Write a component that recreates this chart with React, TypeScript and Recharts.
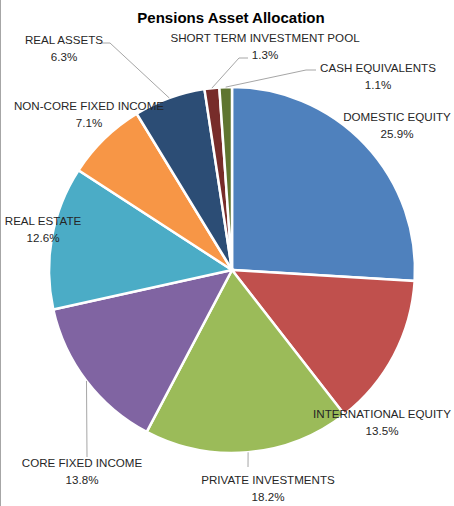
import React from 'react';
import { PieChart, Pie, Cell } from 'recharts';

const categories = [
  'DOMESTIC EQUITY',
  'INTERNATIONAL EQUITY',
  'PRIVATE INVESTMENTS',
  'CORE FIXED INCOME',
  'REAL ESTATE',
  'NON-CORE FIXED INCOME',
  'REAL ASSETS',
  'SHORT TERM INVESTMENT POOL',
  'CASH EQUIVALENTS',
];
const shares = [25.9, 13.5, 18.2, 13.8, 12.6, 7.1, 6.3, 1.3, 1.1];

const colors = ['#4F81BD', '#C0504D', '#9BBB59', '#8064A2', '#4BACC6', '#F79646', '#2C4D75', '#772C2A', '#5F7530'];

// where each label sits (first line centre) and the bends of its leader line, if any
const labelLayout: { x: number; y: number; line?: number[][] }[] = [
  { x: 397, y: 116 },
  { x: 382, y: 413 },
  { x: 268, y: 479, line: [[248, 467]] },
  { x: 82, y: 462, line: [[87, 457]] },
  { x: 43, y: 220 },
  { x: 89, y: 105 },
  { x: 64, y: 39, line: [[110, 43], [102, 43]] },
  { x: 265, y: 37, line: [[239, 58], [248, 58]] },
  { x: 378, y: 67, line: [[306, 70], [316, 70]] },
];

const data = categories.map((name, i) => ({ name, value: shares[i] }));

const RAD = Math.PI / 180;

function renderLabel(props: any) {
  const { cx, cy, midAngle, outerRadius, index, value } = props;
  const layout = labelLayout[index];
  const sx = cx + outerRadius * Math.cos(-midAngle * RAD);
  const sy = cy + outerRadius * Math.sin(-midAngle * RAD);
  const pts = layout.line ? [[sx, sy], ...layout.line] : null;
  return (
    <g key={`lbl-${index}`}>
      {pts && (
        <polyline
          points={pts.map((p) => p.join(',')).join(' ')}
          fill="none"
          stroke="#A6A6A6"
          strokeWidth={1}
        />
      )}
      <text
        x={layout.x}
        y={layout.y}
        textAnchor="middle"
        dominantBaseline="central"
        fill="#262626"
        fontSize={11.6}
        fontFamily="'Liberation Sans', Arial, sans-serif"
      >
        {categories[index]}
      </text>
      <text
        x={layout.x}
        y={layout.y + 17.5}
        textAnchor="middle"
        dominantBaseline="central"
        fill="#262626"
        fontSize={11.6}
        fontFamily="'Liberation Sans', Arial, sans-serif"
      >
        {value.toFixed(1) + '%'}
      </text>
    </g>
  );
}

export default function App() {
  return (
    <div
      style={{
        position: 'absolute',
        left: 0,
        top: 0,
        width: 454,
        height: 506,
        background: '#fff',
        overflow: 'hidden',
      }}
    >
      <div style={{ position: 'absolute', left: 0, top: 0, width: 1, height: 506, background: '#A6A6A6' }} />
      <div
        style={{
          position: 'absolute',
          left: 0,
          top: 9,
          width: 462,
          textAlign: 'center',
          fontFamily: "'Liberation Sans', Arial, sans-serif",
          fontWeight: 'bold',
          fontSize: 15,
          color: '#000',
        }}
      >
        Pensions Asset Allocation
      </div>
      <PieChart width={454} height={506} margin={{ top: 0, right: 0, bottom: 0, left: 0 }}>
        <Pie
          data={data}
          dataKey="value"
          nameKey="name"
          cx={232}
          cy={270}
          outerRadius={183}
          startAngle={90}
          endAngle={-270}
          stroke="#fff"
          strokeWidth={2.5}
          label={renderLabel}
          labelLine={false}
          isAnimationActive={false}
        >
          {data.map((d, i) => (
            <Cell key={d.name} fill={colors[i]} />
          ))}
        </Pie>
      </PieChart>
    </div>
  );
}
